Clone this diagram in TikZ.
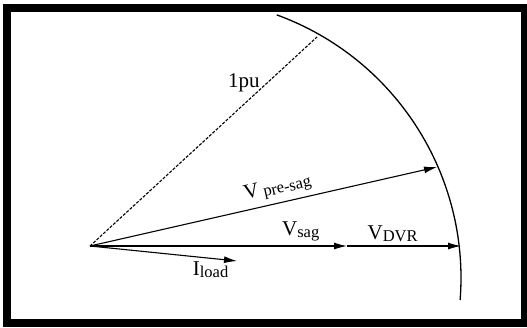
\documentclass[tikz,border=0pt]{standalone}
\usepackage{fontspec}
\setmainfont{Liberation Serif}
\usetikzlibrary{arrows.meta}

\newcommand{\phasor}[2]{#1\raisebox{-0.2ex}{\fontsize{16.5}{17}\selectfont #2}}

\begin{document}
\begin{tikzpicture}[x=1pt, y=-1pt, >={Latex[length=13pt,width=7pt]}, vec/.style={->, line width=1.1pt}, lbl/.style={font=\fontsize{21}{25}\selectfont, inner sep=1pt}]
\useasboundingbox (0,0) rectangle (527,327);
\draw [line width=8pt] (7,8) rectangle (524.5,322.5);
\coordinate (O) at (90,246);
\coordinate (C) at (181,278);
\coordinate (Iload) at (237,261);
\coordinate (Vsag) at (347,246);
\coordinate (Vdvr) at (461,246);
\coordinate (Vpre) at (437,167);
\coordinate (P1) at (317,37);
% circle of radius 1pu
\draw [line width=1.3pt] (C) ++(-70:280) arc[start angle=-70, end angle=4.5, radius=280];
\path [vec]
     (O) edge[-, dash pattern=on 3pt off 1.5pt] node[lbl, pos=0.78, left=6pt] {1pu} (P1)
     (O) edge node[lbl, pos=0.55, sloped, above=4pt] {\phasor{V}{ pre-sag}} (Vpre)
     (O) edge node[lbl, pos=0.82, above=3pt] {\phasor{V}{sag}} (Vsag)
     (Vsag) edge node[lbl, pos=0.4, above=3pt] {\phasor{V}{DVR}} (Vdvr)
     (O) edge node[lbl, pos=0.82, below=2pt] {\phasor{I}{load}} (Iload);
\end{tikzpicture}
\end{document}
